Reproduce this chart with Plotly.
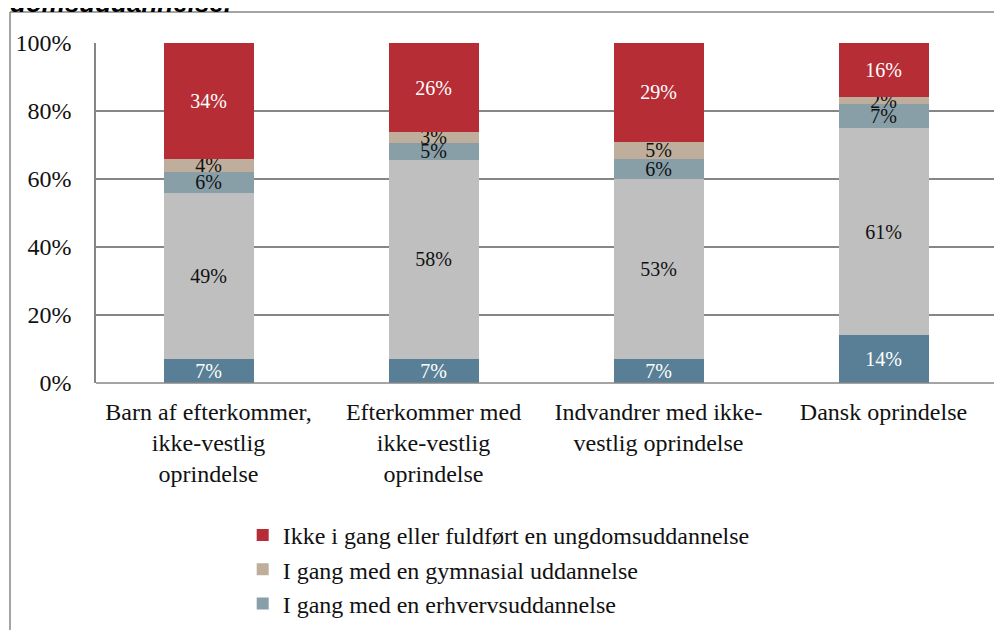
import plotly.graph_objects as go

categories = [
    "Barn af efterkommer,<br>ikke-vestlig<br>oprindelse",
    "Efterkommer med<br>ikke-vestlig<br>oprindelse",
    "Indvandrer med ikke-<br>vestlig oprindelse",
    "Dansk oprindelse",
]

# series, bottom to top
s_bottom = [7, 7, 7, 14]          # dark blue (legend entry not visible)
s_gray = [49, 58, 53, 61]         # light gray (legend entry not visible)
s_erhverv = [6, 5, 6, 7]          # I gang med en erhvervsuddannelse
s_gymnasial = [4, 3, 5, 2]        # I gang med en gymnasial uddannelse
s_ikke = [34, 26, 29, 16]         # Ikke i gang eller fuldført en ungdomsuddannelse

series = [
    ("Serie 1", s_bottom, "#587f96", "white", False),
    ("Serie 2", s_gray, "#bfbfbf", "#111111", False),
    ("I gang med en erhvervsuddannelse", s_erhverv, "#889fa8", "#111111", True),
    ("I gang med en gymnasial uddannelse", s_gymnasial, "#bfae9b", "#111111", True),
    ("Ikke i gang eller fuldført en ungdomsuddannelse", s_ikke, "#b72d35", "white", True),
]

FONT = "Liberation Serif"

fig = go.Figure()
for name, vals, color, tcolor, show in series:
    fig.add_trace(go.Bar(
        x=categories, y=vals, name=name,
        marker=dict(color=color, line=dict(width=0)),
        text=[f"{v}%" for v in vals],
        textposition="inside", insidetextanchor="middle", textangle=0,
        textfont=dict(family=FONT, size=20, color=tcolor),
        showlegend=show,
        hoverinfo="skip",
    ))

# page body has an 8px margin; layout below is laid out in figure pixels
fig.update_layout(
    width=1002, height=630,
    barmode="stack", barnorm="percent", bargap=0.6,
    margin=dict(l=88, r=14, t=35, b=255, autoexpand=False),
    paper_bgcolor="white", plot_bgcolor="white",
    font=dict(family=FONT, size=24, color="#111111"),
    uniformtext=dict(minsize=20, mode="show"),
    legend=dict(
        orientation="v", traceorder="reversed",
        x=0.163, y=-0.382, xanchor="left", yanchor="top",
        font=dict(family=FONT, size=24, color="#111111"),
        bgcolor="rgba(0,0,0,0)",
    ),
    xaxis=dict(showgrid=False, showline=False, ticks="", tickfont=dict(size=24),
               ticklabelstandoff=12, automargin=False),
    yaxis=dict(
        range=[0, 100], dtick=20, ticksuffix="%",
        showgrid=True, gridcolor="#868686", gridwidth=1.5,
        showline=True, linecolor="#868686", linewidth=1.5,
        zeroline=False, ticks="", ticklabelstandoff=18,
        tickfont=dict(size=24), automargin=False,
    ),
    shapes=[
        dict(type="line", xref="paper", yref="paper",
             x0=(10 - 96) / 900, x1=(10 - 96) / 900, y0=(383 - 12) / 340, y1=(383 - 660) / 340,
             line=dict(color="#868686", width=1.5)),
        dict(type="line", xref="paper", yref="paper",
             x0=(10 - 96) / 900, x1=(1030 - 96) / 900, y0=(383 - 12) / 340, y1=(383 - 12) / 340,
             line=dict(color="#868686", width=1.5)),
        dict(type="line", xref="paper", yref="paper",
             x0=0, x1=1, y0=0, y1=0,
             line=dict(color="#868686", width=1.5)),
    ],
    annotations=[
        dict(text="<b><i>domsuddannelse.</i></b>", xref="paper", yref="paper",
             x=(8 - 96) / 900, y=(383 - 19.5) / 340, xanchor="left", yanchor="bottom",
             showarrow=False, font=dict(family="Liberation Sans", size=26, color="#000000")),
    ],
)

fig.write_html("out.html")
